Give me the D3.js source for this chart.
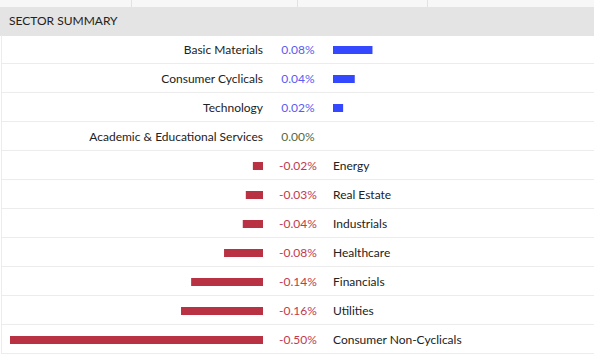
<!DOCTYPE html>
<html>
<head>
<meta charset="utf-8">
<script src="https://cdn.jsdelivr.net/npm/d3@7"></script>
<style>
  body { margin: 0; background: #fff; }
  text { font-family: Lato, "Open Sans", sans-serif; font-size: 12px; }
</style>
</head>
<body>
<svg id="sector-summary"></svg>
<script>
// sector names and daily change (%)
var sectors = ['Basic Materials', 'Consumer Cyclicals', 'Technology', 'Academic & Educational Services',
  'Energy', 'Real Estate', 'Industrials', 'Healthcare', 'Financials', 'Utilities', 'Consumer Non-Cyclicals'];
var changes = [0.078, 0.043, 0.02, 0.0, -0.02, -0.034, -0.04, -0.077, -0.142, -0.162, -0.50];
var title = 'SECTOR SUMMARY';

var width = 594, height = 361;
var headTop = 7, headBottom = 35, rowH = 29;
var centerX = 298, gap = 35; // bars start 35px either side of the centre column

var svg = d3.select('#sector-summary')
  .attr('width', width)
  .attr('height', height);

// top strip with faint column dividers
svg.append('rect').attr('x', 0).attr('y', 0).attr('width', width).attr('height', headTop).attr('fill', '#f7f7f7');
[131, 297, 427].forEach(function (x) {
  svg.append('line').attr('x1', x + 0.5).attr('x2', x + 0.5).attr('y1', 0).attr('y2', headTop)
    .attr('stroke', '#e2e2e2');
});

svg.append('rect').attr('x', 0).attr('y', headTop).attr('width', width).attr('height', headBottom - headTop + 1)
  .attr('fill', '#e4e4e4');
svg.append('text').attr('x', 9).attr('y', 25).attr('fill', '#222').text(title);

var y = d3.scaleBand()
  .domain(sectors)
  .range([headBottom, headBottom + rowH * sectors.length]);

var len = d3.scaleLinear().domain([0, 0.5]).range([0, 253]);
var pct = function (v) { return d3.format('.2f')(v).replace('\u2212', '-') + '%'; };

var rowsBottom = headBottom + rowH * sectors.length;
svg.append('line').attr('x1', 1.5).attr('x2', 1.5).attr('y1', headBottom).attr('y2', rowsBottom)
  .attr('stroke', '#ececec');

var rows = svg.selectAll('.row')
  .data(sectors.map(function (s, i) { return { name: s, value: changes[i] }; }))
  .enter()
  .append('g')
  .attr('class', 'row')
  .attr('transform', function (d) { return 'translate(0,' + y(d.name) + ')'; });

rows.append('line')
  .attr('x1', 2).attr('x2', width)
  .attr('y1', rowH - 0.5).attr('y2', rowH - 0.5)
  .attr('stroke', '#ececec');

rows.append('rect')
  .attr('x', function (d) { return d.value >= 0 ? centerX + gap : centerX - gap - len(-d.value); })
  .attr('y', rowH / 2 - 3.5)
  .attr('width', function (d) { return len(Math.abs(d.value)); })
  .attr('height', 8)
  .attr('fill', function (d) { return d.value >= 0 ? '#3448ff' : '#b83244'; });

rows.append('text')
  .attr('x', centerX)
  .attr('y', rowH / 2 + 4.5)
  .attr('text-anchor', 'middle')
  .attr('fill', function (d) {
    if (d.value > 0) return '#5b5cf2';
    if (d.value < 0) return '#c23a4c';
    return '#55693f';
  })
  .text(function (d) { return pct(d.value); });

rows.append('text')
  .attr('x', function (d) { return d.value >= 0 ? centerX - gap : centerX + gap; })
  .attr('y', rowH / 2 + 4.5)
  .attr('text-anchor', function (d) { return d.value >= 0 ? 'end' : 'start'; })
  .attr('fill', '#222')
  .text(function (d) { return d.name; });
</script>
</body>
</html>
